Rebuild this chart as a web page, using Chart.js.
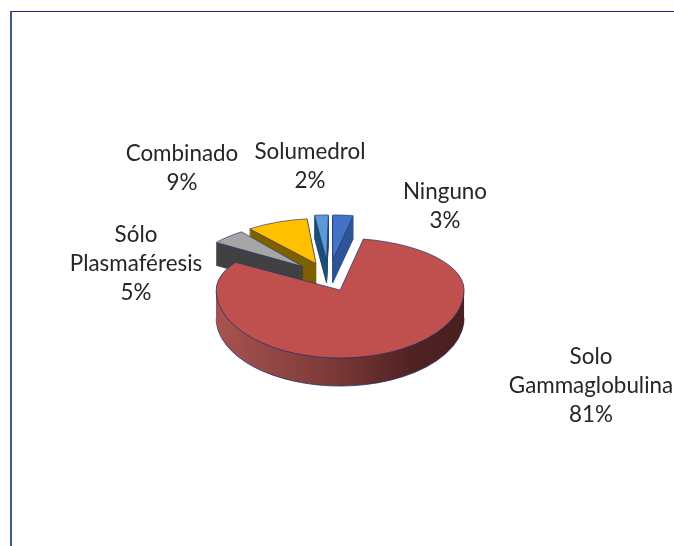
<!DOCTYPE html>
<html>
<head>
<meta charset="utf-8">
<script src="https://cdn.jsdelivr.net/npm/chart.js@4"></script>
<style>
    html, body { margin: 0; padding: 0; background: #fff; overflow: hidden; }
    #wrap { position: relative; width: 674px; height: 546px; }
    #frame {
        position: absolute; left: 10px; top: 11px; right: 0; bottom: 0;
        border-left: 2px solid #3f5a8f; border-top: 1px solid #1b2f6b;
    }
    #pie { position: absolute; left: 0; top: 0; }
</style>
</head>
<body>
<div id="wrap">
    <div id="frame"></div>
    <canvas id="pie" width="674" height="546"></canvas>
</div>
<script>
const categories = ["Ninguno", "Solo Gammaglobulina", "Sólo Plasmaféresis", "Combinado", "Solumedrol"];
const values = [3, 81, 5, 9, 2];

const topColors = ["#4472c4", "#c0504d", "#a5a5a5", "#ffc000", "#5b9bd5"];
const wallColors = ["#2f5597", "#7d3a37", "#414141", "#7f6000", "#1f4e79"];
const explode = [44, 28, 39, 37, 44];
// far slices lean in toward the middle, a poor man's perspective
const lean = [0, 0, -0.25, -0.11, -0.04];

// label text lines and where they sit, one entry per category
const labelLines = [["Ninguno"], ["Solo", "Gammaglobulina"], ["Sólo", "Plasmaféresis"], ["Combinado"], ["Solumedrol"]];
const labelSpots = [[445, 192], [591, 357], [136, 235], [182, 154], [310, 152]];

const outlineColor = "#1f3170";
const backScale = { x: 0.887, y: 0.364, depth: 23 };
const redBackY = 0.419;
const redFrontY = 0.548;
const redDepth = 28;

function drawWith(el, ctx, fill, stroke) {
    const saved = el.options;
    el.options = { ...saved, backgroundColor: fill, borderColor: stroke };
    el.draw(ctx);
    el.options = saved;
}

function sliceApex(el, i, sx, sy) {
    const mid = (el.startAngle + el.endAngle) / 2;
    return [el.x + Math.cos(mid) * explode[i] * sx, el.y + Math.sin(mid) * explode[i] * sy];
}

function place(ctx, el, ax, ay, sx, sy, k = 0) {
    ctx.translate(ax, ay);
    ctx.transform(1, 0, k, 1, 0, 0);
    ctx.scale(sx, sy);
    ctx.translate(-el.x, -el.y);
}

// small slices sit behind, pushed back so they look a bit smaller
function drawBackSlice(ctx, el, i) {
    const [ax, ay] = sliceApex(el, i, backScale.x, backScale.y);
    for (let dy = backScale.depth; dy > 0; dy--) {
        ctx.save();
        place(ctx, el, ax, ay + dy, backScale.x, backScale.y, lean[i]);
        drawWith(el, ctx, wallColors[i], dy === backScale.depth ? outlineColor : wallColors[i]);
        ctx.restore();
    }
    ctx.save();
    place(ctx, el, ax, ay, backScale.x, backScale.y, lean[i]);
    drawWith(el, ctx, topColors[i], outlineColor);
    ctx.restore();
}

function drawBigSlice(ctx, el, i, w, h) {
    const [ax, ay] = sliceApex(el, i, 1, redFrontY);
    const grad = ctx.createLinearGradient(el.x - el.outerRadius, 0, el.x + el.outerRadius, 0);
    grad.addColorStop(0, "#a8534f");
    grad.addColorStop(0.45, "#7d3b38");
    grad.addColorStop(0.8, "#4f2122");
    grad.addColorStop(1, "#4a1f20");

    // wall: only the near half shows
    for (let dy = redDepth; dy > 0; dy--) {
        ctx.save();
        ctx.beginPath();
        ctx.rect(0, ay + dy, w, h);
        ctx.clip();
        place(ctx, el, ax, ay + dy, 1, redFrontY);
        drawWith(el, ctx, grad, dy === redDepth ? outlineColor : "rgba(0,0,0,0)");
        ctx.restore();
    }

    // top face, near and far half have different squash
    ctx.save();
    ctx.beginPath();
    ctx.rect(0, ay, w, h);
    ctx.clip();
    place(ctx, el, ax, ay, 1, redFrontY);
    drawWith(el, ctx, topColors[i], outlineColor);
    ctx.restore();

    ctx.save();
    ctx.beginPath();
    ctx.rect(0, 0, w, ay);
    ctx.clip();
    place(ctx, el, ax, ay, 1, redBackY);
    drawWith(el, ctx, topColors[i], outlineColor);
    ctx.restore();
}

const tiltedPie = {
    id: "tiltedPie",
    beforeDatasetsDraw(chart) {
        const ctx = chart.ctx;
        const arcs = chart.getDatasetMeta(0).data;
        [3, 2, 4, 0].forEach((i) => drawBackSlice(ctx, arcs[i], i));
        drawBigSlice(ctx, arcs[1], 1, chart.width, chart.height);
        return false;
    },
    afterDraw(chart) {
        const ctx = chart.ctx;
        const lineHeight = 29;
        ctx.save();
        ctx.font = '22.4px Lato, "Open Sans", sans-serif';
        ctx.fillStyle = "#262626";
        ctx.textAlign = "center";
        ctx.textBaseline = "middle";
        categories.forEach((name, i) => {
            const lines = [...labelLines[i], `${values[i]}%`];
            const [x, y] = labelSpots[i];
            lines.forEach((line, n) => ctx.fillText(line, x, y + n * lineHeight));
        });
        ctx.restore();
    }
};

new Chart(document.getElementById("pie"), {
    type: "pie",
    data: {
        labels: categories,
        datasets: [{
            data: values,
            backgroundColor: topColors,
            borderColor: outlineColor,
            borderWidth: 1,
            radius: 124,
            hoverOffset: 0
        }]
    },
    options: {
        responsive: false,
        animation: false,
        events: [],
        layout: { padding: { right: 16, top: 6 } },
        plugins: {
            legend: { display: false },
            tooltip: { enabled: false }
        }
    },
    plugins: [tiltedPie]
});
</script>
</body>
</html>
